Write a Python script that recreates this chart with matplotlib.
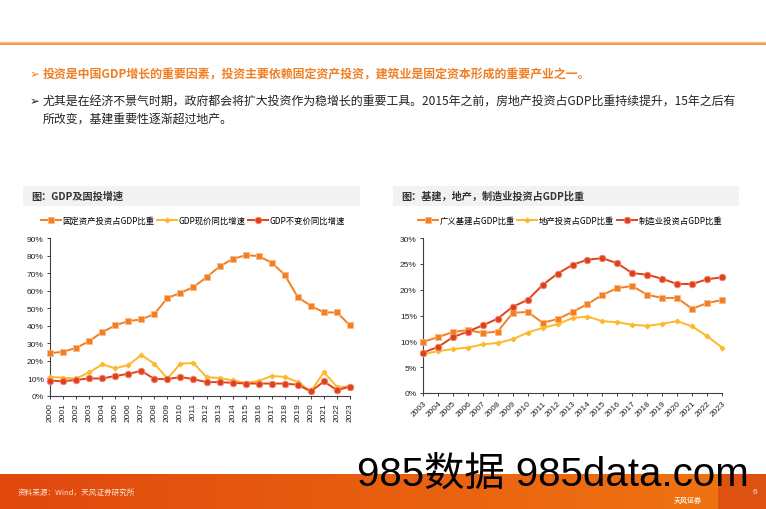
import numpy as np
import matplotlib
matplotlib.use("Agg")
import matplotlib.pyplot as plt
from matplotlib.patches import Rectangle
from matplotlib.lines import Line2D
from matplotlib.ticker import FuncFormatter

plt.rcParams["font.family"] = ["Liberation Sans", "Noto Sans CJK SC", "DejaVu Sans"]

# --- donnees graphique gauche ---
years_1 = [str(y) for y in range(2000, 2024)]
fai_gdp = [24.4, 25.2, 27.4, 31.2, 36.4, 40.2, 42.7, 43.6, 46.7, 55.8, 58.7, 62.1,
           67.6, 73.8, 78.0, 80.2, 79.7, 75.9, 69.0, 56.2, 51.4, 47.6, 47.6, 40.2]
gdp_nominal = [10.9, 10.4, 10.0, 13.4, 18.0, 15.8, 17.6, 23.3, 18.4, 9.9, 18.4, 18.8,
               10.7, 10.3, 8.9, 7.5, 8.6, 11.4, 10.9, 7.9, 2.7, 13.6, 5.2, 5.3]
gdp_real = [8.8, 8.4, 9.2, 10.0, 10.0, 11.4, 12.6, 14.3, 9.7, 9.6, 10.8, 9.6,
            7.9, 7.9, 7.5, 7.1, 7.1, 7.1, 7.1, 6.4, 2.6, 8.3, 3.3, 5.4]

# --- donnees graphique droit ---
years_2 = [str(y) for y in range(2003, 2024)]
infra_gdp = [9.9, 10.8, 11.8, 12.2, 11.6, 11.9, 15.5, 15.7, 13.6, 14.3, 15.7,
             17.2, 19.0, 20.3, 20.7, 19.0, 18.4, 18.4, 16.3, 17.4, 18.0]
estate_gdp = [7.5, 8.1, 8.5, 8.8, 9.4, 9.7, 10.4, 11.7, 12.6, 13.3, 14.5,
              14.8, 13.9, 13.7, 13.2, 13.0, 13.4, 13.9, 12.9, 11.0, 8.8]
manuf_gdp = [7.8, 8.9, 10.8, 11.9, 13.1, 14.4, 16.7, 18.0, 20.9, 23.1, 24.8,
             25.8, 26.1, 25.1, 23.2, 22.9, 22.1, 21.1, 21.1, 22.0, 22.4]

labels_1 = ["固定资产投资占GDP比重", "GDP现价同比增速", "GDP不变价同比增速"]
labels_2 = ["广义基建占GDP比重", "地产投资占GDP比重", "制造业投资占GDP比重"]

C_ORANGE = "#F47F20"
C_YELLOW = "#FDB92B"
C_RED = "#E0411B"
W, H = 766, 510


def fx(px):
    return px / W


def fy(py):
    return 1 - py / H


fig = plt.figure(figsize=(7.66, 5.10), dpi=100)

# ligne orange en haut
fig.add_artist(Line2D([0, 1], [fy(43), fy(43)], color="#F6C09A", lw=1.0))
fig.add_artist(Line2D([0, 1], [fy(44.5), fy(44.5)], color="#F28C2E", lw=1.2))

# textes a puces
cjk = ["Noto Sans CJK SC", "DejaVu Sans"]
fig.text(fx(30), fy(75), "➢", color="#F07E24", fontsize=8.5, va="center", family=["DejaVu Sans"])
fig.text(fx(43), fy(75), "投资是中国GDP增长的重要因素，投资主要依赖固定资产投资，建筑业是固定资本形成的重要产业之一。",
         color="#F07E24", fontsize=8.6, fontweight="bold", va="center", family=cjk)
fig.text(fx(30), fy(102), "➢", color="#222222", fontsize=8.5, va="center", family=["DejaVu Sans"])
fig.text(fx(43), fy(102), "尤其是在经济不景气时期，政府都会将扩大投资作为稳增长的重要工具。2015年之前，房地产投资占GDP比重持续提升，15年之后有",
         color="#222222", fontsize=8.6, va="center", family=cjk)
fig.text(fx(43), fy(119), "所改变，基建重要性逐渐超过地产。",
         color="#222222", fontsize=8.6, va="center", family=cjk)

# bandeaux de titre
for x0, x1, title in [(23, 360, "图：GDP及固投增速"), (393, 739, "图：基建，地产，制造业投资占GDP比重")]:
    fig.add_artist(Rectangle((fx(x0), fy(207)), fx(x1 - x0), 20 / H, transform=fig.transFigure,
                             facecolor="#F2F2F2", edgecolor="none"))
    fig.text(fx(x0 + 8), fy(197), title, fontsize=7.3, color="#333333", va="center",
             fontweight="bold", family=cjk)


def style_axis(ax, ymax, step, nlab):
    for s in ["top", "right"]:
        ax.spines[s].set_visible(False)
    for s in ["left", "bottom"]:
        ax.spines[s].set_color("#404040")
        ax.spines[s].set_linewidth(0.8)
    ax.set_ylim(0, ymax)
    ax.set_yticks(np.arange(0, ymax + 0.1, step))
    ax.yaxis.set_major_formatter(FuncFormatter(lambda v, p: f"{v:.0f}%"))
    ax.set_xlim(0, nlab - 1)
    ax.tick_params(axis="both", direction="out", length=2.5, width=0.7, color="#404040",
                   labelsize=6, labelcolor="#222222", pad=2)


def plot_series(ax, x, vals, color, marker, ms, label):
    edge = {"s": "#F9B98A", "o": "#F0907A", "D": C_YELLOW}[marker]
    ax.plot(x, vals, color=color, lw=1.4, marker=marker, ms=ms, mfc=color, mec=edge,
            mew=0.6, label=label, clip_on=False, zorder=3)


leg_kw = dict(ncol=3, loc="center", frameon=False, handlelength=2.4, handletextpad=0.2,
              columnspacing=0.3, borderpad=0,
              prop={"family": ["Noto Sans CJK SC", "DejaVu Sans"], "size": 6})

# graphique gauche
ax1 = fig.add_axes([fx(50), fy(397), fx(300), 158 / H])
x1 = np.arange(len(years_1))
plot_series(ax1, x1, fai_gdp, C_ORANGE, "s", 5.0, labels_1[0])
plot_series(ax1, x1, gdp_nominal, C_YELLOW, "D", 2.6, labels_1[1])
plot_series(ax1, x1, gdp_real, C_RED, "o", 4.8, labels_1[2])
style_axis(ax1, 90, 10, len(years_1))
ax1.set_xticks(x1)
ax1.set_xticklabels(years_1, rotation=90)
ax1.legend(bbox_to_anchor=(fx(193), fy(221)), bbox_transform=fig.transFigure, **leg_kw)

# graphique droit
ax2 = fig.add_axes([fx(423), fy(394), fx(299), 155 / H])
x2 = np.arange(len(years_2))
plot_series(ax2, x2, infra_gdp, C_ORANGE, "s", 5.0, labels_2[0])
plot_series(ax2, x2, estate_gdp, C_YELLOW, "D", 2.6, labels_2[1])
plot_series(ax2, x2, manuf_gdp, C_RED, "o", 4.8, labels_2[2])
style_axis(ax2, 30, 5, len(years_2))
ax2.set_xticks(x2)
ax2.set_xticklabels(years_2, rotation=45, ha="right", rotation_mode="anchor")
ax2.legend(bbox_to_anchor=(fx(570), fy(221)), bbox_transform=fig.transFigure, **leg_kw)

# bandeau du bas en degrade
bg = fig.add_axes([0, 0, 1, 35 / H], zorder=-1)
grad = np.linspace(0, 1, 256)
c0 = np.array([224, 72, 14]) / 255
c1 = np.array([240, 118, 18]) / 255
img = c0[None, :] + (c1 - c0)[None, :] * grad[:, None]
bg.imshow(img[None, :, :], aspect="auto", extent=[0, 1, 0, 1])
bg.add_patch(Rectangle((718 / W, 0), 48 / W, 1, facecolor="#D94A12", edgecolor="none", alpha=0.8))
bg.set_xlim(0, 1)
bg.set_ylim(0, 1)
bg.axis("off")

fig.text(fx(18), fy(493), "资料来源：Wind，天风证券研究所", color="#FBE3D2", fontsize=5.5,
         va="center", family=cjk)
fig.text(fx(688), fy(500), "天风证券", color="white", fontsize=5, va="center", ha="center",
         fontweight="bold", family=cjk, alpha=0.85)
fig.text(fx(755), fy(493), "6", color="#FBE3D2", fontsize=6, va="center", ha="center")

# filigrane
fig.text(fx(357), fy(475), "985数据 985data.com", color="black", fontsize=29, va="center",
         family=["Liberation Sans", "Noto Sans CJK SC"])

fig.savefig("out.png", dpi=100)
